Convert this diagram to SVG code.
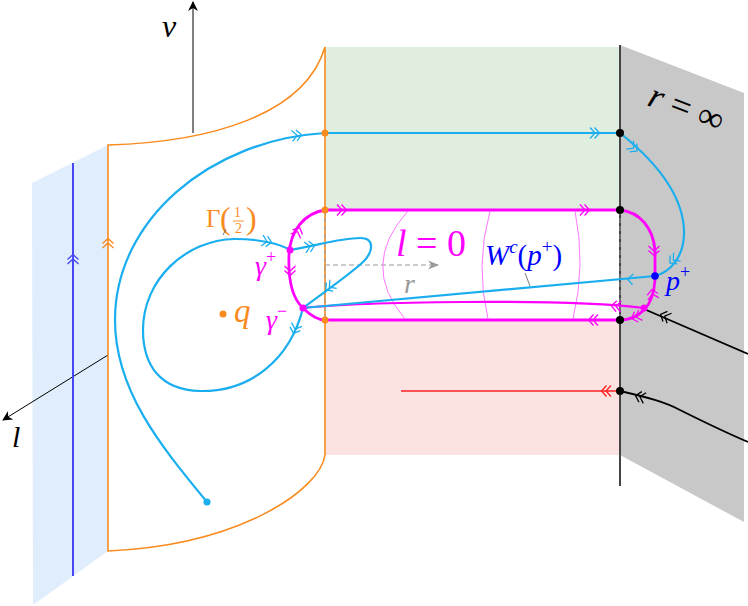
<svg xmlns="http://www.w3.org/2000/svg" width="748" height="606" viewBox="0 0 748 606">
<style>
.t{font-family:"Liberation Serif","DejaVu Serif",serif}
.i{font-style:italic}
.cy{stroke:#1aaeef;fill:none;stroke-width:2.2}
.mg{stroke:#ff00ff;fill:none}
.or{stroke:#f98b1e;fill:none}
.ch{fill:none;stroke-width:1.3}
</style>
<defs>
<path id="dch" d="M-8,-5.5 L-3,0 L-8,5.5 M-3.5,-5.5 L1.5,0 L-3.5,5.5"/>
<path id="sch" d="M-5,-5.5 L0.5,0 L-5,5.5"/>
<marker id="ah" viewBox="0 0 10 10" refX="9" refY="5" markerWidth="10" markerHeight="10" markerUnits="userSpaceOnUse" orient="auto">
<path d="M0,0 L10,5 L0,10 L3,5 Z" fill="#000"/>
</marker>
<marker id="ahg" viewBox="0 0 10 10" refX="9" refY="5" markerWidth="11" markerHeight="11" markerUnits="userSpaceOnUse" orient="auto">
<path d="M0,1 L10,5 L0,9 L3,5 Z" fill="#999"/>
</marker>
</defs>

<g id="planes">
<polygon points="32,183 108,145 108,551 33,605" fill="#e0edfc"/>
<rect x="325" y="47" width="295" height="163" fill="#e0eee0"/>
<rect x="325" y="320" width="295" height="135" fill="#fde2e2"/>
<polygon points="620,45 744,93 744,522 620,455" fill="#c8c8c8"/>
</g>

<g id="axes">
<line x1="193" y1="133" x2="193" y2="2" stroke="#000" stroke-width="1" marker-end="url(#ah)"/>
<line x1="108" y1="355" x2="3" y2="420" stroke="#000" stroke-width="1" marker-end="url(#ah)"/>
<text class="t i" x="162" y="37" font-size="32">v</text>
<text class="t i" x="12" y="447" font-size="30">l</text>
</g>

<g id="blue-line">
<line x1="73" y1="163" x2="73" y2="576" stroke="#4646f5" stroke-width="2"/>
<use href="#dch" transform="translate(73,256) rotate(-90)" stroke="#4646f5" class="ch"/>
</g>

<g id="orange-boundary">
<path class="or" stroke-width="1.6" d="M108,145 C210,142 305,115 325,47 L325,455 C320,490 240,545 108,551 Z"/>
<use href="#dch" transform="translate(108,240) rotate(-90)" stroke="#f98b1e" class="ch"/>
</g>

<g id="r-infinity">
<line x1="620" y1="45" x2="620" y2="486" stroke="#444" stroke-width="2"/>
<text class="t" x="646" y="105" font-size="36" transform="rotate(21 646 105)"><tspan class="i">r</tspan> = ∞</text>
</g>

<g id="tube">
<path class="mg" stroke-width="2.8" fill="#fff" d="M325,210 L620,210 C640,212 653,228 655,250 L655,280 C654,295 650,304 644,310 C638,316 630,320 620,320 L325,320 C318,320 310,315 303,308 C292,298 288,280 289,255 C290,230 305,213 325,210 Z"/>
<g stroke="#999" stroke-width="1" stroke-dasharray="5,3" fill="none">
<line x1="325" y1="210" x2="325" y2="320"/>
<line x1="620" y1="210" x2="620" y2="320"/>
<line x1="325" y1="265" x2="438" y2="265" marker-end="url(#ahg)"/>
</g>
<g stroke="#ff66ff" stroke-width="0.9" fill="none">
<path d="M408,211 Q359,265 405,319"/>
<path d="M490,211 Q475,265 488,319"/>
<path d="M575,211 Q586,265 573,319"/>
</g>
<path class="mg" stroke-width="2.2" d="M303,308 C360,302 560,298 644,308"/>
</g>

<g id="labels">
<text class="t i" x="404" y="293" font-size="28" fill="#999">r</text>
<text class="t" x="396" y="256" font-size="38" fill="#ff00ff"><tspan class="i">l</tspan> = 0</text>
<text class="t" x="485" y="265" font-size="29" fill="#0000ff"><tspan class="i">W</tspan><tspan font-size="19" dy="-12" class="i">c</tspan><tspan dy="12">(</tspan><tspan class="i">p</tspan><tspan font-size="19" dy="-12">+</tspan><tspan dy="12">)</tspan></text>
<line x1="525" y1="273" x2="530" y2="286" stroke="#555" stroke-width="0.8"/>
<g fill="#f98b1e">
<text class="t" x="206" y="227" font-size="25">Γ</text>
<text class="t" x="220" y="229" font-size="32">(</text>
<text class="t" x="234" y="217" font-size="14">1</text>
<line x1="233" y1="221" x2="244" y2="221" stroke="#f98b1e" stroke-width="0.9"/>
<text class="t" x="235" y="233" font-size="14">2</text>
<text class="t" x="246" y="229" font-size="32">)</text>
</g>
<line x1="226" y1="229" x2="223" y2="235" stroke="#555" stroke-width="0.8"/>
<text class="t i" x="255" y="275" font-size="28" fill="#ff00ff">γ<tspan font-size="18" dy="-12" font-style="normal">+</tspan></text>
<text class="t i" x="266" y="329" font-size="28" fill="#ff00ff">γ<tspan font-size="18" dy="-12" font-style="normal">−</tspan></text>
<circle cx="223" cy="314" r="3.5" fill="#f98b1e"/>
<text class="t i" x="234" y="322" font-size="33" fill="#f98b1e">q</text>
<text class="t i" x="666" y="290" font-size="28" fill="#0000ff">p<tspan font-size="18" dy="-12" font-style="normal">+</tspan></text>
</g>

<g id="connectors">
<path class="cy" stroke-width="1.7" d="M207,502 C160,445 115,390 115,320 C115,220 210,140 325,133"/>
<path class="cy" d="M325,133 L620,133"/>
<path class="cy" d="M620,133 C660,165 685,200 684,235 C683,258 670,272 655,276"/>
<path class="cy" d="M303,308 C290,360 250,392 200,391 C160,390 143,365 143,330 C143,280 185,240 235,239 C260,239 280,244 290,250"/>
<path class="cy" stroke-width="1.7" d="M290,250 C315,246 340,238 360,238 C375,238 374,252 362,263 C345,278 320,295 303,308"/>
<path class="cy" d="M303,308 L655,276"/>
<line x1="401" y1="391" x2="620" y2="391" stroke="#ff2020" stroke-width="1.6"/>
<line x1="644" y1="309" x2="748" y2="354" stroke="#000" stroke-width="1.8"/>
<path d="M620,391 C650,398 665,402 680,410 C700,420 720,430 748,442" fill="none" stroke="#000" stroke-width="1.8"/>

<g stroke="#1aaeef" class="ch">
<use href="#dch" transform="translate(300,135) rotate(-6)"/>
<use href="#dch" transform="translate(598,133)"/>
<use href="#dch" transform="translate(636,150) rotate(40)"/>
<use href="#dch" transform="translate(671,262) rotate(140)"/>
<use href="#sch" transform="translate(628,279) rotate(185)"/>
<use href="#dch" transform="translate(270,242) rotate(10)"/>
<use href="#dch" transform="translate(294,332) rotate(110)"/>
<use href="#dch" transform="translate(313,246) rotate(-10)"/>
<use href="#dch" transform="translate(327,289) rotate(142)"/>
</g>
<g stroke="#ff00ff" class="ch">
<use href="#dch" transform="translate(345,210)"/>
<use href="#dch" transform="translate(588,210)"/>
<use href="#dch" transform="translate(299,229) rotate(-65)"/>
<use href="#dch" transform="translate(290,274) rotate(90)"/>
<use href="#dch" transform="translate(654,254) rotate(90)"/>
<use href="#dch" transform="translate(652,291) rotate(-100)"/>
<use href="#dch" transform="translate(590,320) rotate(180)"/>
<use href="#dch" transform="translate(613,306) rotate(184)"/>
<use href="#dch" transform="translate(633,318) rotate(160)"/>
</g>
<g stroke="#000" class="ch">
<use href="#dch" transform="translate(662,315) rotate(204)"/>
<use href="#dch" transform="translate(637,396) rotate(195)"/>
</g>
<use href="#dch" transform="translate(603,391) rotate(180)" stroke="#ff2020" class="ch"/>
</g>

<g id="points">
<circle cx="207" cy="502" r="3.5" fill="#1aaeef"/>
<circle cx="325" cy="133" r="3.5" fill="#f98b1e"/>
<circle cx="325" cy="210" r="3.5" fill="#f98b1e"/>
<circle cx="325" cy="320" r="3.5" fill="#f98b1e"/>
<circle cx="620" cy="133" r="4" fill="#000"/>
<circle cx="620" cy="210" r="4" fill="#000"/>
<circle cx="620" cy="320" r="4" fill="#000"/>
<circle cx="620" cy="391" r="4" fill="#000"/>
<circle cx="290" cy="250" r="3.5" fill="#ff00ff"/>
<circle cx="303" cy="308" r="3.5" fill="#ff00ff"/>
<circle cx="644" cy="308" r="3.5" fill="#ff00ff"/>
<circle cx="655" cy="276" r="3.8" fill="#0000ff"/>
</g>
</svg>
